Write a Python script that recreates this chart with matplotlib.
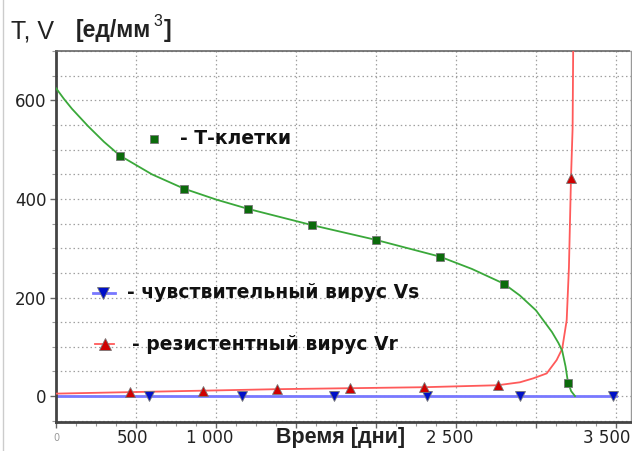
import matplotlib
matplotlib.use("Agg")
import matplotlib.pyplot as plt
from matplotlib.lines import Line2D
import numpy as np

plt.rcParams['font.family'] = ['Liberation Sans', 'DejaVu Sans']

# ---- data ----
t_T_line = [0, 50, 100, 200, 300, 400, 600, 800, 1000, 1200, 1600, 2000, 2400, 2600, 2800, 2900, 3000, 3100, 3140, 3164, 3185, 3200, 3220, 3244]
T_line   = [625, 603, 583, 548, 516, 488, 450, 421, 399, 380, 347, 317, 283, 258, 228, 204, 174, 130, 108, 92, 60, 28, 10, 0]
t_T_mark = [400, 800, 1200, 1600, 2000, 2400, 2800, 3200]
T_mark   = [488, 421, 380, 347, 317, 283, 228, 26]

t_Vr_line = [0, 460, 920, 1380, 1840, 2300, 2760, 2900, 2983, 3067, 3129, 3164, 3192, 3206, 3219, 3229, 3233]
Vr_line   = [5, 8, 11, 14, 16, 18, 22, 28, 36, 46, 73, 96, 154, 261, 443, 544, 720]
t_Vr_mark = [460, 920, 1380, 1840, 2300, 2760, 3220]
Vr_mark   = [8, 11, 14, 16, 18, 23, 443]

t_Vs_line = [0, 3500]
Vs_line   = [0, 0]
t_Vs_mark = [580, 1160, 1740, 2320, 2900, 3480]
Vs_mark   = [0, 0, 0, 0, 0, 0]

x_ticks = [0, 500, 1000, 2500, 3500]
x_tick_labels = ['0', '500', '1 000', '2 500', '3 500']
y_ticks = [0, 200, 400, 600]
y_tick_labels = ['0', '200', '400', '600']

# ---- figure ----
fig = plt.figure(figsize=(6.32, 4.51), dpi=100)
ax = fig.add_axes([56/632, 1 - 421.7/451, 575/632, 371/451])

ax.set_xlim(0, 3594)
ax.set_ylim(-52, 701)

# grid
for gx in np.arange(500, 3594, 500):
    ax.axvline(gx, color='#a0a0a0', lw=0.9, ls=(0, (1.2, 2.2)), zorder=0)
for gy in np.arange(-50, 701, 50):
    ax.axhline(gy, color='#a0a0a0', lw=0.9, ls=(0, (1.2, 2.2)), zorder=0)

green_line = '#3aa83a'
green_mark = '#0b6b0b'
red_line = '#ff5a5a'
red_mark = '#d00000'
blue_line = '#7878ff'
blue_mark = '#0010c8'

ax.plot(t_Vs_line, Vs_line, color=blue_line, lw=2, zorder=2)
ax.plot(t_Vr_line, Vr_line, color=red_line, lw=1.3, zorder=3)
ax.plot(t_T_line, T_line, color=green_line, lw=1.3, zorder=4)

ax.plot(t_Vs_mark, Vs_mark, ls='none', marker='v', ms=7, color=blue_mark, mec='#777777', mew=0.6, zorder=5)
ax.plot(t_Vr_mark, Vr_mark, ls='none', marker='^', ms=7, color=red_mark, mec='#777777', mew=0.6, zorder=5)
ax.plot(t_T_mark, T_mark, ls='none', marker='s', ms=5.5, color=green_mark, mec='#777777', mew=0.6, zorder=5)

# ticks
ax.set_xticks(np.arange(0, 3594, 500))
ax.set_xticklabels([])
ax.set_yticks(y_ticks)
ax.set_yticklabels(y_tick_labels, fontsize=12, color='#222222', family='DejaVu Sans')
ax.set_xticks(np.arange(0, 3594, 125), minor=True)
ax.set_yticks(np.arange(-50, 701, 50), minor=True)
ax.tick_params(axis='x', which='major', length=4, width=1, color='#666666')
ax.tick_params(axis='y', which='major', length=4, width=1, color='#666666', pad=3)
ax.tick_params(which='minor', length=3, width=0.8, color='#999999')

# x tick labels (drawn as text, slightly shifted left as in the original)
x_offsets_px = [0, -3, -6, -6, -9]
for xv, lab, off in zip(x_ticks, x_tick_labels, x_offsets_px):
    if lab == '0':
        ax.annotate(lab, xy=(xv, 0), xycoords=('data', 'axes fraction'),
                    xytext=(off * 0.72, -12), textcoords='offset points',
                    ha='center', va='center', fontsize=7, color='#999999', family='DejaVu Sans')
    else:
        ax.annotate(lab, xy=(xv, 0), xycoords=('data', 'axes fraction'),
                    xytext=(off * 0.72, -11.5), textcoords='offset points',
                    ha='center', va='center', fontsize=12, color='#222222', family='DejaVu Sans')

# spines
ax.spines['left'].set_linewidth(2)
ax.spines['left'].set_color('#444444')
ax.spines['bottom'].set_linewidth(2)
ax.spines['bottom'].set_color('#444444')
ax.spines['top'].set_linewidth(1.2)
ax.spines['top'].set_color('#666666')
ax.spines['top'].set_linestyle((0, (2, 1)))
ax.spines['right'].set_linewidth(1)
ax.spines['right'].set_color('#999999')

# custom legend inside the plot
def ax_pos(px, py):
    return ((px - 56) / 575, (421.7 - py) / 371)

leg_font = dict(fontsize=13.5, fontweight='bold', family='DejaVu Sans', va='center', ha='left', zorder=6, color='#111111')

x, y = ax_pos(154, 139)
ax.plot([x], [y], transform=ax.transAxes, marker='s', ms=6, color=green_mark, mec='#777777', mew=0.6, zorder=6)
x, y = ax_pos(180, 139)
ax.text(x, y, '- Т-клетки', transform=ax.transAxes, **leg_font)

x1, y1 = ax_pos(93, 293)
x2, _ = ax_pos(115, 293)
ax.add_line(Line2D([x1, x2], [y1, y1], transform=ax.transAxes, color=blue_line, lw=2, zorder=6))
x, y = ax_pos(103, 293)
ax.plot([x], [y], transform=ax.transAxes, marker='v', ms=8, color=blue_mark, mec='#777777', mew=0.6, zorder=6)
x, y = ax_pos(127, 293)
ax.text(x, y, '- чувствительный вирус Vs', transform=ax.transAxes, **leg_font)

x1, y1 = ax_pos(95, 344)
x2, _ = ax_pos(114, 344)
ax.add_line(Line2D([x1, x2], [y1, y1], transform=ax.transAxes, color=red_line, lw=1.3, zorder=6))
x, y = ax_pos(105, 344)
ax.plot([x], [y], transform=ax.transAxes, marker='^', ms=8, color=red_mark, mec='#777777', mew=0.6, zorder=6)
x, y = ax_pos(132, 344)
ax.text(x, y, '- резистентный вирус Vr', transform=ax.transAxes, **leg_font)

# axis titles
fig.text(341/632, 1 - 437/451, 'Время [дни]', fontsize=15.5, fontweight='bold', ha='center', va='center', color='#222222')
fig.text(11/632, 1 - 31/451, 'T, V', fontsize=18, ha='left', va='center', color='#222222')
fig.text(76/632, 1 - 31/451, '[ед/мм', fontsize=16.5, fontweight='bold', ha='left', va='center', color='#222222')
fig.text(153/632, 1 - 22/451, '3', fontsize=11.5, ha='left', va='center', color='#222222')
fig.text(164/632, 1 - 31/451, ']', fontsize=16.5, fontweight='bold', ha='left', va='center', color='#222222')

# thin border at left edge of image
fig.add_artist(Line2D([2.5/632, 2.5/632], [0, 1], transform=fig.transFigure, color='#cccccc', lw=1))

fig.savefig('out.png', dpi=100)
